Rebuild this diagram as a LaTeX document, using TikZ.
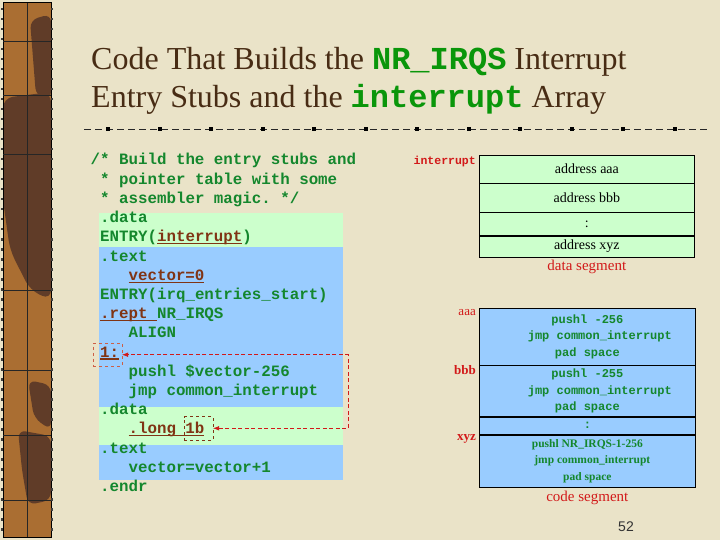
\documentclass[tikz,border=0pt]{standalone}
\usepackage{fontspec}
\setmainfont{Liberation Serif}
\setmonofont{Liberation Mono}
\newfontfamily\numfont{Liberation Sans}
\usetikzlibrary{arrows.meta,positioning}
\definecolor{cpaper}{RGB}{234,227,200}
\definecolor{cstripe}{RGB}{170,110,50}
\definecolor{cstripedk}{RGB}{96,60,40}
\definecolor{ctitle}{RGB}{72,44,20}
\definecolor{ctitlemono}{RGB}{10,150,10}
\definecolor{ccode}{RGB}{20,135,45}
\definecolor{clabel}{RGB}{128,52,20}
\definecolor{cdata}{RGB}{204,255,204}
\definecolor{ctext}{RGB}{153,204,255}
\definecolor{cred}{RGB}{210,25,25}
\definecolor{cbox}{RGB}{205,95,70}
\newcommand\codefont{\fontsize{15.8}{19}\ttfamily\bfseries}
\newcommand\titlemono{\ttfamily\bfseries\color{ctitlemono}}
\newcommand\brn[1]{{\color{clabel}\setbox0\hbox{#1}\rlap{\rule[-2.6pt]{\wd0}{1.3pt}}\box0}}

\begin{document}
\begin{tikzpicture}[x=1pt,y=-1pt,
    code/.style={anchor=base west, inner sep=0pt, text=ccode, font=\codefont},
    drow/.style={draw=black, fill=cdata, minimum width=215.3pt, inner sep=0pt, font=\fontsize{14}{16}\selectfont},
    crow/.style={draw=black, fill=ctext, minimum width=215.7pt, inner sep=0pt, align=center, text=ccode, font=\fontsize{12}{16.5}\selectfont\ttfamily\bfseries},
    mark box/.style={draw, dashed, minimum width=28.4pt, minimum height=23.6pt, inner sep=0pt}]
    \useasboundingbox (0,0) rectangle (720,540);
    % paper and side stripe
    \fill[cpaper] (0,0) rectangle (720,540);
    \fill[cstripe] (3,3) rectangle (51,537);
    \fill[cstripedk, rounded corners=8pt] (30,20) -- (51,14) -- (51,100) -- (36,96) -- cycle;
    \fill[cstripedk, rounded corners=10pt] (3,98) -- (51,92) -- (51,300) -- (30,290) -- (10,250) -- (3,200) -- cycle;
    \fill[cstripedk, rounded corners=8pt] (28,380) -- (51,385) -- (51,430) -- (34,418) -- cycle;
    \fill[cstripedk, rounded corners=8pt] (18,430) -- (51,436) -- (51,500) -- (28,505) -- (22,470) -- cycle;
    \draw[black, line width=1pt] (3,3) rectangle (51,537);
    \draw[black!85, line width=0.7pt] (27,3) -- (27,537);
    \foreach \y in {41.7,95,154,290.7,370,435,500}
      \draw[black!85, line width=0.7pt] (3,\y) -- (51,\y);
    \foreach \y in {8,18,...,530}{
      \fill[black!75] (1,\y) rectangle ++(2,2.5);
      \fill[black!75] (51,\y) rectangle ++(2,2.5);
    }
    % title
    \node[anchor=base west, inner sep=0pt, text=ctitle, font=\fontsize{32}{38}\selectfont] (title1) at (91,70)
      {Code That Builds the {\titlemono NR\_IRQS} Interrupt};
    \node[anchor=base west, inner sep=0pt, text=ctitle, font=\fontsize{32}{38}\selectfont] (title2) at (91,108)
      {Entry Stubs and the {\titlemono interrupt} Array};
    \draw[black!85, line width=0.9pt, dash pattern=on 7pt off 4pt] (84,129.5) -- (708,129.5);
    \foreach \i in {0,...,11}
      \fill[black] (106.3+51.5*\i,127.5) rectangle ++(4,4);
    % code listing
    \fill[cdata] (99,213) rectangle (343,246.7);
    \fill[ctext] (99,246.7) rectangle (343,406.7);
    \fill[cdata] (99,406.7) rectangle (343,445);
    \fill[ctext] (99,445) rectangle (343,480);
    \node[code] (l1) at (90.5,165) {/* Build the entry stubs and};
    \node[code] (l2) at (100,184.2) {* pointer table with some};
    \node[code] (l3) at (100,203.4) {* assembler magic. */};
    \node[code] (l4) at (100,222.6) {.data};
    \node[code] (l5) at (100,241.8) {ENTRY(\brn{interrupt})};
    \node[code] (l6) at (100,261.0) {.text};
    \node[code] (l7) at (128.4,280.2) {\brn{vector=0}};
    \node[code] (l8) at (100,299.4) {ENTRY(irq\_entries\_start)};
    \node[code] (l9) at (100,318.6) {\brn{.rept }NR\_IRQS};
    \node[code] (l10) at (128.4,337.8) {ALIGN};
    \node[code] (l11) at (100,357.0) {\brn{1:}};
    \node[code] (l12) at (128.4,376.2) {pushl \$vector-256};
    \node[code] (l13) at (128.4,395.4) {jmp common\_interrupt};
    \node[code] (l14) at (100,414.6) {.data};
    \node[code] (l15) at (128.4,433.8) {\brn{.long 1b}};
    \node[code] (l16) at (100,453.0) {.text};
    \node[code] (l17) at (128.4,472.2) {vector=vector+1};
    \node[code] (l18) at (100,491.4) {.endr};
    % label and reference
    \node[mark box, cbox] (one) at (107.5,354.7) {};
    \node[mark box, clabel] (lb) at (198.5,428.3) {};
    \coordinate (turn) at (348,354.7);
    \draw[cred, thick, dash pattern=on 4pt off 2.5pt, {Latex[length=2.2mm]}-{Latex[length=2.2mm]}]
      (lb.east) -- (lb.east -| turn) |- (one.east);
    % data segment
    \node[drow, minimum height=27.7pt, anchor=north west] (d1) at (479,155) {address aaa};
    \node[drow, minimum height=29pt, below=0pt of d1] (d2) {address bbb};
    \node[drow, minimum height=22.6pt, below=0pt of d2] (d3) {:};
    \node[drow, minimum height=21.4pt, below=0pt of d3] (d4) {address xyz};
    \node[below=3pt of d4, inner sep=0pt, text=cred, font=\fontsize{15}{17}\selectfont] (dseg) {data segment};
    \node[anchor=base east, inner sep=0pt, text=cred, font=\fontsize{11.5}{13}\ttfamily\bfseries] (lint) at (476,165) {interrupt};
    % code segment
    \node[crow, minimum height=56.7pt, anchor=north west] (c1) at (479.3,308.3)
      {pushl -256\\\hspace*{25pt}jmp common\_interrupt\\pad space};
    \node[crow, minimum height=51pt, below=0pt of c1] (c2)
      {pushl -255\\\hspace*{25pt}jmp common\_interrupt\\pad space};
    \node[crow, minimum height=17.3pt, below=0pt of c2] (c3) {:};
    \node[crow, minimum height=52.7pt, below=0pt of c3, font=\fontsize{11.5}{16.7}\selectfont\bfseries] (c4)
      {pushl NR\_IRQS-1-256\\\hspace*{10pt}jmp common\_interrupt\\pad space};
    \node[below=3pt of c4, inner sep=0pt, text=cred, font=\fontsize{15}{17}\selectfont] (cseg) {code segment};
    \node[anchor=base east, inner sep=0pt, text=cred, font=\fontsize{13}{15}\selectfont] (laaa) at (476,315) {aaa};
    \node[anchor=base east, inner sep=0pt, text=cred, font=\fontsize{13}{15}\selectfont\bfseries] (lbbb) at (476,374) {bbb};
    \node[anchor=base east, inner sep=0pt, text=cred, font=\fontsize{13}{15}\selectfont\bfseries] (lxyz) at (476,440) {xyz};
    % page number
    \node[inner sep=0pt, text=black!80, font=\numfont\fontsize{14}{16}\selectfont] (page) at (626,527) {52};
\end{tikzpicture}
\end{document}
